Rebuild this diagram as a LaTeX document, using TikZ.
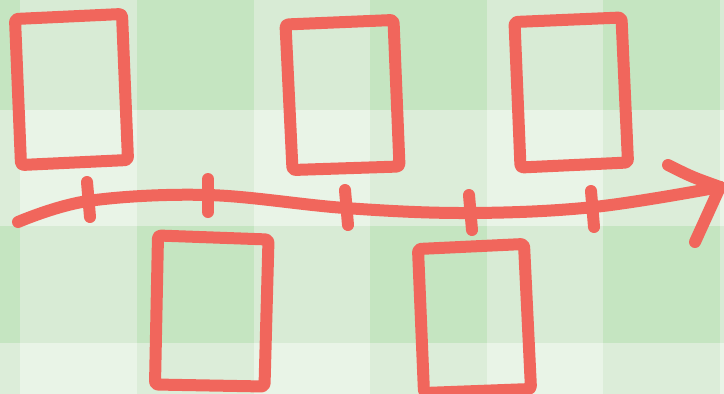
\documentclass[tikz,border=0pt]{standalone}
\definecolor{bgA}{HTML}{E9F4E7}
\definecolor{bgB}{HTML}{DCEDD9}
\definecolor{bgC}{HTML}{D8EBD5}
\definecolor{bgD}{HTML}{C5E5C1}
\definecolor{ink}{HTML}{F1665C}
\begin{document}
\begin{tikzpicture}[x=1pt,y=-1pt,
  pen/.style={draw=ink, line width=12pt, line cap=round, line join=round},
  card/.style={pen, rounded corners=3pt}]
\useasboundingbox (0,0) rectangle (724,394);
% plaid background
\foreach \ya/\yb/\r in {0/110/2,110/226/0,226/343/2,343/394/0}{
  \foreach \xa/\xb/\c in {0/20/1,20/137/0,137/254/1,254/370/0,370/487/1,487/603/0,603/720/1,720/724/0}{
    \pgfmathtruncatemacro\k{\r+\c}
    \ifcase\k
      \fill[bgA] (\xa,\ya) rectangle (\xb,\yb);
    \or
      \fill[bgB] (\xa,\ya) rectangle (\xb,\yb);
    \or
      \fill[bgC] (\xa,\ya) rectangle (\xb,\yb);
    \else
      \fill[bgD] (\xa,\ya) rectangle (\xb,\yb);
    \fi
  }
}
% cards
\draw[card] (15,19) -- (122,14) -- (128,160) -- (21,165) -- cycle;
\draw[card] (285.5,24.5) -- (393.5,20) -- (399.5,166.5) -- (292.5,170) -- cycle;
\draw[card] (514.5,22) -- (621.5,17.5) -- (628,162.5) -- (520.5,167.5) -- cycle;
\draw[card] (158,235.5) -- (268.5,239.5) -- (264.5,386.5) -- (155,384.5) -- cycle;
\draw[card] (418,249) -- (524,244) -- (531,389) -- (424,393) -- cycle;
% timeline
\coordinate (tip) at (720,187);
\draw[pen] plot[smooth, tension=0.6] coordinates {(18,222) (88,201) (208,195) (345,208) (468,213) (594,207) (720,187)};
\draw[pen] (668,165) .. controls (692,177) .. (tip);
\draw[pen] (695,242) -- (tip);
% ticks
\draw[pen] (87,182) -- (90,217);
\draw[pen] (208,179) -- (208,212);
\draw[pen] (345,190) -- (348,225);
\draw[pen] (469,195) -- (472,230);
\draw[pen] (591,191) -- (594,227);
\end{tikzpicture}
\end{document}
